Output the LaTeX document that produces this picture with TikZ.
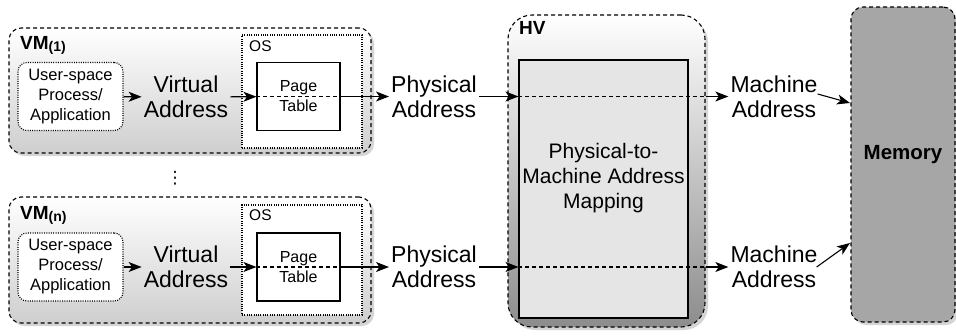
\documentclass[tikz,border=0pt]{standalone}
\usepackage{fontspec}
\setmainfont{Liberation Sans}
\newfontfamily\symfont{DejaVu Sans}
\usetikzlibrary{arrows.meta,shadows,calc}

\tikzset{
  x=1pt, y=-1pt,
  every node/.style={inner sep=2pt, align=center},
  lw/.style={line width=1.1pt},
  dsh/.style={dash pattern=on 4pt off 3pt},
  dots/.style={dash pattern=on 1pt off 1.3pt},
  shade/.style={drop shadow={shadow xshift=3pt, shadow yshift=-3pt, fill=black!30, opacity=0.55}},
  vmbox/.style={draw, lw, dsh, rounded corners=12pt, minimum width=362pt,
    shade, top color=white, bottom color=black!19},
  osbox/.style={draw, lw, dots, fill=white, minimum width=120pt},
  ptbox/.style={draw, lw, fill=white, minimum width=83pt, minimum height=68pt,
    font=\fontsize{16}{20}\selectfont},
  usrbox/.style={draw, lw, dots, fill=white, rounded corners=9pt,
    minimum width=105pt, minimum height=68pt, font=\fontsize{16.5}{20}\selectfont},
  addr/.style={font=\fontsize{23}{25}\selectfont},
  arr/.style={lw, -{Stealth[length=13pt, width=10pt, inset=3.5pt]}},
  thin/.style={lw, dsh}
}

\begin{document}
\begin{tikzpicture}
\useasboundingbox (0,0) rectangle (956,335);

% virtual machines
\node[vmbox, minimum height=125pt] (vm1) at (190,90.5) {};
\node[vmbox, minimum height=126pt] (vmn) at (190,260) {};
\node[anchor=west, inner sep=0pt] (vm1l) at (20,45) {\fontsize{19}{20}\selectfont\bfseries VM\raisebox{-2pt}{\fontsize{14}{15}\selectfont (1)}};
\node[anchor=west, inner sep=0pt] (vmnl) at (20,215) {\fontsize{19}{20}\selectfont\bfseries VM\raisebox{-2pt}{\fontsize{14}{15}\selectfont (n)}};
\node (vdots) at (175,178) {\symfont\fontsize{17}{17}\selectfont ⋮};

% guest operating systems
\node[osbox, minimum height=113pt] (os1) at (302,91.5) {};
\node[osbox, minimum height=110pt] (osn) at (302,260) {};
\node[anchor=west, inner sep=0pt, font=\fontsize{15.5}{16}\selectfont] (os1l) at (249,46) {OS};
\node[anchor=west, inner sep=0pt, font=\fontsize{15.5}{16}\selectfont] (osnl) at (249,215) {OS};

\node[ptbox] (pt1) at (298.5,96.5) {Page\\Table};
\node[ptbox] (ptn) at (298.5,267) {Page\\Table};

\node[usrbox] (usr1) at (70.5,96.5) {User-space\\Process/\\Application};
\node[usrbox] (usrn) at (70.5,267) {User-space\\Process/\\Application};

\node[addr] (va1) at (186,97) {Virtual\\Address};
\node[addr] (van) at (186,267) {Virtual\\Address};
\node[addr] (pa1) at (434,97) {Physical\\Address};
\node[addr] (pan) at (434,267) {Physical\\Address};
\node[addr] (ma1) at (774,97) {Machine\\Address};
\node[addr] (man) at (774,267) {Machine\\Address};

% hypervisor
\node[draw, lw, dsh, rounded corners=24pt, minimum width=197pt, minimum height=312pt,
  shade, top color=white, bottom color=black!45] (hv) at (606.5,171) {};
\node[anchor=west, inner sep=0pt, font=\fontsize{19}{20}\selectfont\bfseries] (hvl) at (519,28) {HV};
\node[draw, lw, fill=black!10, minimum width=169pt, minimum height=258pt] (map) at (603.5,189) {};
\node[font=\fontsize{21}{25}\selectfont] (mapt) at (603.5,178) {Physical-to-\\Machine Address\\Mapping};

% memory
\node[draw, lw, dsh, rounded corners=12pt, fill=black!35, minimum width=104pt, minimum height=315pt,
  shade] (mem) at (903,164.5) {};
\node[font=\fontsize{20.5}{22}\selectfont\bfseries] (memt) at (903,155) {Memory};
\coordinate (m1) at (850,103);
\coordinate (m2) at (850,243);

% address translation path, first VM
\draw[arr] (usr1) -- (va1);
\draw[arr] (va1) -- (pt1);
\draw[thin] (pt1.west) -- (pt1.east);
\draw[arr] (pt1.east) -- (pa1.west |- pt1.east);
\draw[arr] (pa1.east |- pt1.east) -- (map.west |- pt1.east);
\draw[thin] (map.west |- pt1.east) -- (hv.east |- pt1.east);
\draw[arr] (hv.east |- pt1.east) -- (ma1.west |- pt1.east);
\draw[arr] ($(ma1.east)+(-2,-3)$) -- (m1);

% address translation path, n-th VM
\draw[arr] (usrn) -- (van);
\draw[arr] (van) -- (ptn);
\draw[thin] (ptn.west) -- (ptn.east);
\draw[arr] (ptn.east) -- (pan.west |- ptn.east);
\draw[arr] (pan.east |- ptn.east) -- (map.west |- ptn.east);
\draw[thin] (map.west |- ptn.east) -- (hv.east |- ptn.east);
\draw[arr] (hv.east |- ptn.east) -- (man.west |- ptn.east);
\draw[arr] ($(man.east)+(-3,0)$) -- (m2);
\end{tikzpicture}
\end{document}
